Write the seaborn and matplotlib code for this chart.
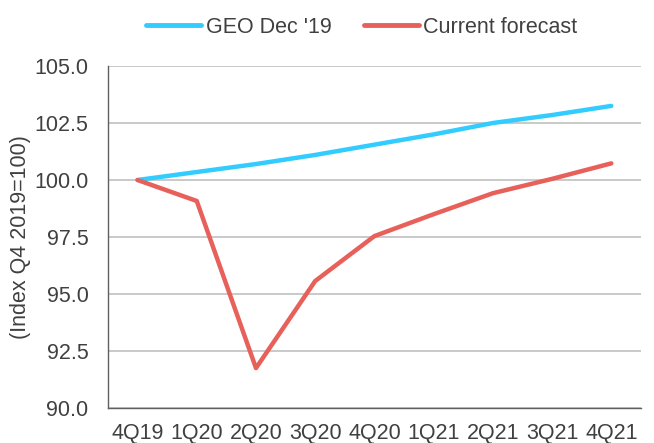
import pandas as pd
import numpy as np
import matplotlib
matplotlib.use('Agg')
import matplotlib.pyplot as plt
import seaborn as sns

# 数据
quarters = ['4Q19', '1Q20', '2Q20', '3Q20', '4Q20', '1Q21', '2Q21', '3Q21', '4Q21']
geo_dec19 = [100.0, 100.35, 100.7, 101.1, 101.55, 102.0, 102.5, 102.85, 103.25]
current = [100.0, 99.08, 91.75, 95.57, 97.54, 98.5, 99.42, 100.05, 100.73]

df = pd.DataFrame({
    'idx': list(range(len(quarters))) * 2,
    'value': geo_dec19 + current,
    'series': ["GEO Dec '19"] * len(quarters) + ['Current forecast'] * len(quarters),
})

sns.set_style('white')
plt.rcParams['font.family'] = ['Liberation Sans', 'DejaVu Sans']
fs = 15.5
txt = '#404040'

fig = plt.figure(figsize=(6.54, 4.43), dpi=100)
ax = fig.add_axes([0.165, 0.079, 0.815, 0.772])

sns.lineplot(data=df, x='idx', y='value', hue='series',
             palette=['#33CCFF', '#E8605A'], linewidth=3.2, ax=ax,
             legend=False, solid_capstyle='round')

ax.set_xlim(-0.5, len(quarters) - 0.5)
ax.set_ylim(90, 105)
yt = np.arange(90, 105.1, 2.5)
ax.set_yticks(yt)
ax.set_yticklabels([f'{v:.1f}' for v in yt], fontsize=fs, color=txt)
ax.set_xticks(range(len(quarters)))
ax.set_xticklabels(quarters, fontsize=fs, color=txt)
ax.set_xticks(np.arange(-0.5, len(quarters), 1), minor=True)
ax.tick_params(axis='x', which='major', length=0, pad=11)
ax.tick_params(axis='x', which='minor', length=5, width=1, color='#606060', direction='out')
ax.tick_params(axis='y', length=0, pad=14)
ax.yaxis.grid(True, color='#C0C0C0', linewidth=1.2)
ax.set_axisbelow(True)

for s in ['top', 'right']:
    ax.spines[s].set_visible(False)
for s in ['left', 'bottom']:
    ax.spines[s].set_color('#606060')
    ax.spines[s].set_linewidth(1)

ax.set_xlabel('')
ax.set_ylabel('(Index Q4 2019=100)', fontsize=fs, color=txt, labelpad=2)

handles = [plt.Line2D([], [], color='#33CCFF', lw=3.5, solid_capstyle='round'),
           plt.Line2D([], [], color='#E8605A', lw=3.5, solid_capstyle='round')]
fig.legend(handles, ["GEO Dec '19", 'Current forecast'], loc='center',
           bbox_to_anchor=(0.553, 0.939), ncol=2, frameon=False, fontsize=fs,
           handlelength=2.55, handletextpad=0.2, columnspacing=1.5,
           labelcolor=txt)

fig.savefig('out.png', dpi=100)
